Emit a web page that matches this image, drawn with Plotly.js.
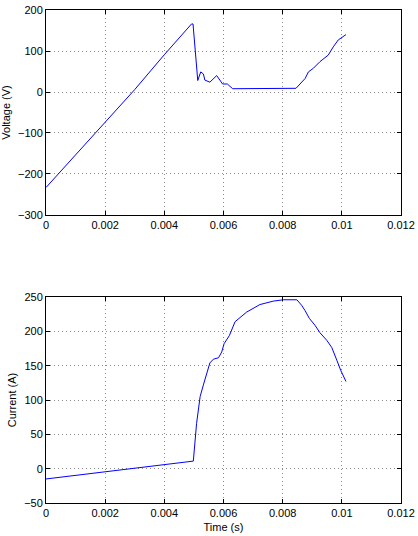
<!DOCTYPE html>
<html>
<head>
<meta charset="utf-8">
<script src="https://cdn.plot.ly/plotly-3.0.1.min.js"></script>
<style>html,body{margin:0;padding:0;background:#fff;}#chart{width:418px;height:536px;}</style>
</head>
<body>
<div id="chart"></div>
<script>
// Voltage trace (top)
const voltageTime = [0, 0.001, 0.002, 0.003, 0.004, 0.0047, 0.00492, 0.00497, 0.00513, 0.00523, 0.00532, 0.00537, 0.00554, 0.00577, 0.00588, 0.00597, 0.00613, 0.00631, 0.00845, 0.00864, 0.00876, 0.00887, 0.00904, 0.00926, 0.00954, 0.00971, 0.00988, 0.01014];
const voltageValues = [-233, -153, -75, 6, 91, 150, 166, 166, 28, 49, 44, 29, 24, 40, 29, 19.5, 19.5, 8, 9, 23, 33, 49, 58, 74, 90, 110, 127, 140];

// Current trace (bottom)
const currentTime = [0, 0.00496, 0.00498, 0.00509, 0.00521, 0.00532, 0.00543, 0.00554, 0.00566, 0.00583, 0.00594, 0.00602, 0.0062, 0.00639, 0.00678, 0.00723, 0.00768, 0.00802, 0.00848, 0.00864, 0.00876, 0.0089, 0.00909, 0.00926, 0.00949, 0.00966, 0.00983, 0.00996, 0.01014];
const currentValues = [-15, 11, 11, 66, 105, 122, 139, 154, 159.5, 161.5, 170, 182, 194, 214, 228, 239, 244, 246, 246, 238, 230, 219, 209, 198, 187, 176.5, 158, 143.5, 127];

const timeTickVals = [0, 0.002, 0.004, 0.006, 0.008, 0.01, 0.012];
const timeTickText = ["0", "0.002", "0.004", "0.006", "0.008", "0.01", "0.012"];
const voltageTickVals = [-300, -200, -100, 0, 100, 200];
const currentTickVals = [-50, 0, 50, 100, 150, 200, 250];

const font = {family: "Liberation Sans, Arial, sans-serif", size: 11, color: "#000"};
const axisCommon = {
  showline: true, linecolor: "#000", linewidth: 1, mirror: "ticks",
  ticks: "inside", ticklen: 4, tickcolor: "#000", tickwidth: 1,
  showgrid: true, gridcolor: "#8c8c8c", griddash: "1px,3px", gridwidth: 1,
  zeroline: false, tickfont: font
};

const traces = [
  {x: voltageTime, y: voltageValues, xaxis: "x", yaxis: "y", mode: "lines",
   line: {color: "#0000ff", width: 1}, hoverinfo: "skip"},
  {x: currentTime, y: currentValues, xaxis: "x2", yaxis: "y2", mode: "lines",
   line: {color: "#0000ff", width: 1}, hoverinfo: "skip"}
];

const layout = {
  width: 418, height: 536,
  margin: {l: 46, r: 17, t: 10, b: 33},
  paper_bgcolor: "#fff", plot_bgcolor: "#fff",
  showlegend: false, font: font,
  xaxis: Object.assign({}, axisCommon, {domain: [0, 1], anchor: "y", range: [0, 0.012],
    tickmode: "array", tickvals: timeTickVals, ticktext: timeTickText}),
  yaxis: Object.assign({}, axisCommon, {domain: [0.5842, 1], anchor: "x", range: [-300, 200],
    tickmode: "array", tickvals: voltageTickVals,
    title: {text: "Voltage (V)", font: font, standoff: 5}}),
  xaxis2: Object.assign({}, axisCommon, {domain: [0, 1], anchor: "y2", range: [0, 0.012],
    tickmode: "array", tickvals: timeTickVals, ticktext: timeTickText,
    title: {text: "Time (s)", font: font, standoff: 5}}),
  yaxis2: Object.assign({}, axisCommon, {domain: [0, 0.4178], anchor: "x2", range: [-50, 250],
    tickmode: "array", tickvals: currentTickVals,
    title: {text: "Current (A)", font: font, standoff: 5}})
};

Plotly.newPlot("chart", traces, layout, {staticPlot: true, displayModeBar: false});
</script>
</body>
</html>
